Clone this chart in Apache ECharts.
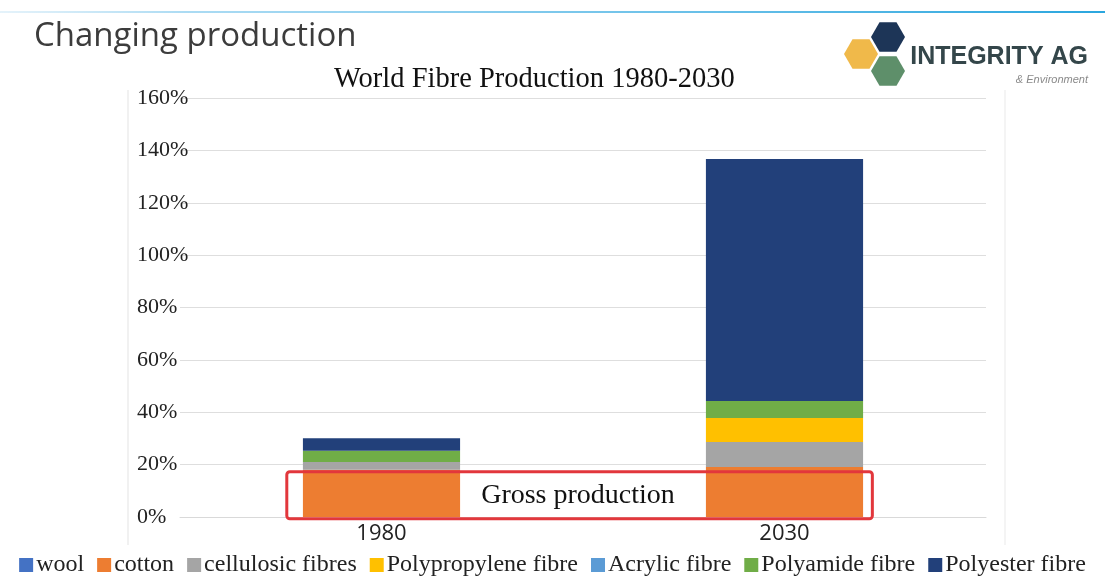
<!DOCTYPE html>
<html>
<head>
<meta charset="utf-8">
<script src="https://cdn.jsdelivr.net/npm/echarts@6/dist/echarts.min.js"></script>
<style>
  html, body { margin: 0; padding: 0; background: #fff; }
  #main { width: 1105px; height: 577px; }
</style>
</head>
<body>
<div id="main"></div>
<script type="text/javascript">
    // categories and values (percent)
    var years = ['1980', '2030'];
    var seriesNames = ['wool', 'cotton', 'cellulosic fibres', 'Polypropylene fibre', 'Acrylic fibre', 'Polyamide fibre', 'Polyester fibre'];
    var wool = [0, 0];
    var cotton = [18, 19.1];
    var cellulosic = [3, 9.5];
    var polypropylene = [0, 9.2];
    var acrylic = [0, 0];
    var polyamide = [4.3, 6.5];
    var polyester = [4.8, 92.4];
    var yTicks = [0, 20, 40, 60, 80, 100, 120, 140, 160];

    var colors = ['#4472C4', '#ED7D31', '#A5A5A5', '#FFC000', '#5B9BD5', '#70AD47', '#22407A'];
    var values = [wool, cotton, cellulosic, polypropylene, acrylic, polyamide, polyester];

    var myChart = echarts.init(document.getElementById('main'));

    var series = seriesNames.map(function (name, i) {
        return {
            name: name,
            type: 'bar',
            stack: 'total',
            barWidth: '39%',
            itemStyle: { color: colors[i] },
            data: values[i]
        };
    });

    var serif = '"Liberation Serif", "DejaVu Serif", serif';

    var option = {
        animation: false,
        backgroundColor: '#fff',
        title: {
            text: 'World Fibre Production 1980-2030',
            left: 329,
            top: 60,
            textStyle: { fontFamily: serif, fontSize: 28.5, fontWeight: 'normal', color: '#111' }
        },
        legend: {
            bottom: -5,
            left: 'center',
            itemWidth: 14,
            itemHeight: 14,
            itemGap: 13,
            icon: 'rect',
            textStyle: { fontFamily: serif, fontSize: 24, color: '#222', padding: [0, 0, 0, -2] },
            data: seriesNames
        },
        grid: { left: 180, right: 119, top: 98, bottom: 60 },
        xAxis: {
            type: 'category',
            data: years,
            axisLine: { lineStyle: { color: '#d9d9d9' } },
            axisTick: { show: false },
            axisLabel: { fontFamily: '"Open Sans", sans-serif', fontSize: 22, color: '#222', margin: 6 }
        },
        yAxis: {
            type: 'value',
            min: yTicks[0],
            max: yTicks[yTicks.length - 1],
            interval: 20,
            axisLine: { show: false },
            axisTick: { show: false },
            splitLine: { lineStyle: { color: '#dedede' } },
            axisLabel: {
                formatter: '{value}%',
                align: 'left',
                margin: 43,
                fontFamily: serif,
                fontSize: 22,
                color: '#222'
            }
        },
        series: series
    };
    myChart.setOption(option);

    // annotation box round the cotton layer, placed from the axes
    var x0 = myChart.convertToPixel({ xAxisIndex: 0 }, '1980');
    var x1 = myChart.convertToPixel({ xAxisIndex: 0 }, '2030');
    var yTop = myChart.convertToPixel({ yAxisIndex: 0 }, 17.3);
    var yBot = myChart.convertToPixel({ yAxisIndex: 0 }, -0.7);
    var band = x1 - x0;
    var boxL = x0 - band * 0.235;
    var boxR = x1 + band * 0.218;

    function hex(cx, cy, r) {
        var pts = [];
        for (var k = 0; k < 6; k++) {
            var a = Math.PI / 3 * k;
            pts.push([cx + r * Math.cos(a), cy + r * Math.sin(a)]);
        }
        return pts;
    }

    myChart.setOption({
        graphic: [
            {
                type: 'line',
                shape: { x1: 0, y1: 12, x2: 1105, y2: 12 },
                style: {
                    lineWidth: 2,
                    stroke: new echarts.graphic.LinearGradient(0, 0, 1, 0, [
                        { offset: 0, color: 'rgba(170,215,240,0.3)' },
                        { offset: 0.17, color: 'rgba(150,210,240,0.8)' },
                        { offset: 1, color: '#2aa6de' }
                    ])
                }
            },
            {
                type: 'text',
                x: 34,
                y: 20,
                style: { text: 'Changing production', font: '33px "Open Sans", sans-serif', fill: '#3c3c3c' }
            },
            { type: 'line', shape: { x1: 128, y1: 90, x2: 128, y2: 545 }, style: { stroke: '#ececec', lineWidth: 1.5 } },
            { type: 'line', shape: { x1: 1005, y1: 90, x2: 1005, y2: 545 }, style: { stroke: '#f0f0f0', lineWidth: 1.5 } },
            { type: 'polygon', shape: { points: hex(888, 37, 17) }, style: { fill: '#1d3557' } },
            { type: 'polygon', shape: { points: hex(861, 54, 17) }, style: { fill: '#f0b94a' } },
            { type: 'polygon', shape: { points: hex(888, 71, 17) }, style: { fill: '#5e8f6a' } },
            {
                type: 'text',
                x: 1088, y: 45,
                style: { text: 'INTEGRITY AG', font: 'bold 25px "Liberation Sans", sans-serif', fill: '#34464a', textAlign: 'right' }
            },
            {
                type: 'text',
                x: 1088, y: 74,
                style: { text: '& Environment', font: 'italic 11px "Liberation Sans", sans-serif', fill: '#8a8a8a', textAlign: 'right' }
            },
            {
                type: 'rect',
                z: 100,
                shape: { x: boxL, y: yTop, width: boxR - boxL, height: yBot - yTop, r: 3 },
                style: { fill: 'none', stroke: '#e2373c', lineWidth: 3 }
            },
            {
                type: 'text',
                z: 100,
                x: 578,
                y: (yTop + yBot) / 2,
                style: { text: 'Gross production', font: '28px "Liberation Serif", serif', fill: '#111', textAlign: 'center', textVerticalAlign: 'middle' }
            }
        ]
    });
</script>
</body>
</html>
